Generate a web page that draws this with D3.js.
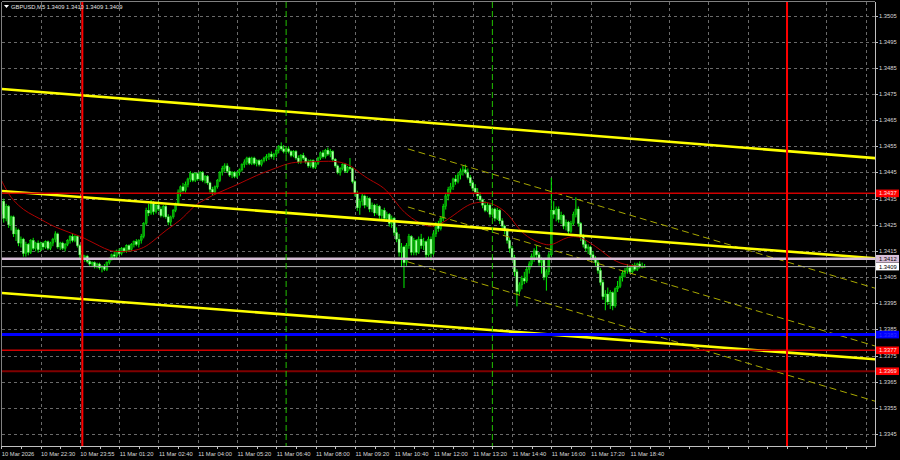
<!DOCTYPE html>
<html><head><meta charset="utf-8">
<script src="https://cdn.jsdelivr.net/npm/d3@7"></script>
<style>html,body{margin:0;padding:0;background:#000;}svg{display:block;}</style>
</head><body>
<svg id="chart" width="900" height="460"></svg>
<script>
// ---------------- DATA ----------------
const symbol = "GBPUSD,M5";
const headerValues = ["1.3409", "1.3410", "1.3409", "1.3409"];

const timeLabels = ["10 Mar 2026","10 Mar 22:30","10 Mar 23:55","11 Mar 01:20","11 Mar 02:40","11 Mar 04:00",
  "11 Mar 05:20","11 Mar 06:40","11 Mar 08:00","11 Mar 09:20","11 Mar 10:40","11 Mar 12:00","11 Mar 13:20",
  "11 Mar 14:40","11 Mar 16:00","11 Mar 17:20","11 Mar 18:40"];
const timeLabelBars = [0,16,32,48,64,80,96,112,128,144,160,176,192,208,224,240,256];
const gridBars = [16,32,48,64,80,96,112,128,144,160,176,192,208,224,240,256,272,288,304,320,336,352];

const priceTicks = [1.3345,1.3355,1.3365,1.3375,1.3385,1.3395,1.3405,1.3415,1.3425,1.3435,1.3445,1.3455,1.3465,1.3475,1.3485,1.3495,1.3505];

// M5 candles: [open, high, low, close]
const candles = [
[1.3429,1.3437,1.3427,1.3434],[1.3434,1.3435,1.3426,1.34275],[1.34275,1.3433,1.34265,1.3432],[1.3432,1.34325,1.3424,1.3425],
[1.3425,1.34285,1.3423,1.3428],[1.3428,1.34285,1.34205,1.34215],[1.34215,1.3424,1.3419,1.3423],[1.3423,1.34235,1.3417,1.3418],
[1.3418,1.34205,1.34165,1.34195],[1.34195,1.342,1.3413,1.3414],[1.3414,1.34185,1.3413,1.34175],[1.34175,1.3418,1.34135,1.34145],
[1.34145,1.34195,1.3414,1.3419],[1.3419,1.342,1.34155,1.3416],[1.3416,1.34185,1.3415,1.3418],[1.3418,1.3419,1.34145,1.34155],
[1.34155,1.34185,1.3415,1.3418],[1.3418,1.34185,1.34155,1.34165],[1.34165,1.3419,1.3416,1.34185],[1.34185,1.3419,1.34155,1.3416],
[1.3416,1.34185,1.34155,1.3418],[1.3418,1.342,1.3417,1.34195],[1.34195,1.34225,1.34185,1.34215],[1.34215,1.3422,1.3416,1.34165],
[1.34165,1.34185,1.34155,1.3418],[1.3418,1.34185,1.34155,1.3416],[1.3416,1.3418,1.3415,1.34175],[1.34175,1.34195,1.3417,1.3419],
[1.3419,1.3421,1.3418,1.34205],[1.34205,1.34215,1.34185,1.3419],[1.3419,1.3421,1.34185,1.34205],[1.34205,1.3421,1.34165,1.3417],
[1.3417,1.34175,1.34125,1.34135],[1.34135,1.34145,1.34115,1.3412],[1.3412,1.34135,1.3411,1.3413],[1.3413,1.34135,1.34105,1.3411],
[1.3411,1.3412,1.34095,1.341],[1.341,1.3411,1.3409,1.34105],[1.34105,1.3411,1.34085,1.3409],[1.3409,1.34105,1.34085,1.341],
[1.341,1.34105,1.3408,1.34085],[1.34085,1.34095,1.3407,1.3409],[1.3409,1.341,1.34075,1.3408],[1.3408,1.3411,1.34075,1.34105],
[1.34105,1.34125,1.341,1.3412],[1.3412,1.3414,1.34115,1.34135],[1.34135,1.3415,1.34125,1.3413],[1.3413,1.34155,1.34125,1.3415],
[1.3415,1.3416,1.34135,1.3414],[1.3414,1.34165,1.34135,1.3416],[1.3416,1.34165,1.34145,1.3415],[1.3415,1.34175,1.34145,1.3417],
[1.3417,1.34175,1.3415,1.34155],[1.34155,1.3418,1.3415,1.34175],[1.34175,1.3419,1.34165,1.34185],[1.34185,1.34195,1.3417,1.34175],
[1.34175,1.34195,1.34165,1.3419],[1.3419,1.34215,1.3418,1.34205],[1.34205,1.3426,1.342,1.34255],[1.34255,1.34315,1.3425,1.34305],
[1.34305,1.3433,1.34285,1.34295],[1.34295,1.34345,1.3429,1.34335],[1.34335,1.3434,1.3429,1.343],[1.343,1.3433,1.34295,1.34325],
[1.34325,1.3434,1.34305,1.3431],[1.3431,1.3432,1.3428,1.34285],[1.34285,1.34325,1.3428,1.3432],[1.3432,1.34325,1.34275,1.3428],
[1.3428,1.3429,1.3425,1.3426],[1.3426,1.34285,1.3425,1.3428],[1.3428,1.3431,1.34275,1.34305],[1.34305,1.34335,1.343,1.3433],
[1.3433,1.34385,1.34325,1.34375],[1.34375,1.344,1.3436,1.34395],[1.34395,1.3441,1.34375,1.3438],[1.3438,1.34415,1.34375,1.34405],
[1.34405,1.3443,1.34395,1.34425],[1.34425,1.34455,1.34415,1.34445],[1.34445,1.3445,1.34415,1.3442],[1.3442,1.3445,1.34415,1.34445],
[1.34445,1.3445,1.3442,1.34425],[1.34425,1.34455,1.3442,1.3445],[1.3445,1.34455,1.34415,1.3442],[1.3442,1.3444,1.3441,1.34435],
[1.34435,1.3444,1.34405,1.3441],[1.3441,1.34415,1.34375,1.34385],[1.34385,1.34395,1.34365,1.34375],[1.34375,1.344,1.3437,1.34395],
[1.34395,1.34425,1.3439,1.3442],[1.3442,1.34455,1.34415,1.3445],[1.3445,1.34475,1.3444,1.34465],[1.34465,1.34485,1.34455,1.34475],
[1.34475,1.34485,1.3445,1.34455],[1.34455,1.3447,1.34435,1.3444],[1.3444,1.34455,1.3443,1.3445],[1.3445,1.34455,1.3443,1.34435],
[1.34435,1.34455,1.3443,1.3445],[1.3445,1.34465,1.3444,1.3446],[1.3446,1.34485,1.34455,1.3448],[1.3448,1.345,1.3447,1.3449],
[1.3449,1.3451,1.3448,1.34505],[1.34505,1.3451,1.3448,1.34485],[1.34485,1.3451,1.3448,1.34505],[1.34505,1.3451,1.3448,1.34485],
[1.34485,1.345,1.34475,1.34495],[1.34495,1.345,1.34475,1.3448],[1.3448,1.345,1.34475,1.34495],[1.34495,1.3451,1.3449,1.34505],
[1.34505,1.3452,1.34495,1.3451],[1.3451,1.34525,1.345,1.3452],[1.3452,1.3453,1.34505,1.3451],[1.3451,1.34525,1.345,1.3452],
[1.3452,1.3454,1.3451,1.34535],[1.34535,1.34555,1.34525,1.3455],[1.3455,1.34565,1.34535,1.3454],[1.3454,1.34555,1.34525,1.3453],
[1.3453,1.34545,1.3452,1.3454],[1.3454,1.3455,1.34525,1.3453],[1.3453,1.34535,1.3451,1.34515],[1.34515,1.34535,1.3451,1.3453],
[1.3453,1.34535,1.345,1.34505],[1.34505,1.34515,1.34485,1.3449],[1.3449,1.3452,1.34485,1.34515],[1.34515,1.34525,1.345,1.34505],
[1.34505,1.3451,1.34485,1.3449],[1.3449,1.345,1.3447,1.34475],[1.34475,1.345,1.3447,1.34495],[1.34495,1.345,1.34465,1.3447],
[1.3447,1.3449,1.34465,1.34485],[1.34485,1.3451,1.3448,1.34505],[1.34505,1.3453,1.345,1.34525],[1.34525,1.34535,1.34505,1.3451],
[1.3451,1.3454,1.34505,1.34535],[1.34535,1.34545,1.34515,1.3452],[1.3452,1.3454,1.3451,1.3453],[1.3453,1.34535,1.34495,1.345],
[1.345,1.34505,1.3447,1.34475],[1.34475,1.3448,1.34445,1.3445],[1.3445,1.3447,1.3444,1.34465],[1.34465,1.34485,1.3446,1.3448],
[1.3448,1.34485,1.3445,1.34455],[1.34455,1.34475,1.3445,1.3447],[1.3447,1.34505,1.3446,1.34465],[1.34465,1.3447,1.3441,1.34415],
[1.34415,1.3442,1.3436,1.3437],[1.3437,1.3438,1.34305,1.34315],[1.34315,1.3435,1.3429,1.3434],[1.3434,1.3437,1.34325,1.3436],
[1.3436,1.34365,1.34315,1.34325],[1.34325,1.3436,1.3432,1.3435],[1.3435,1.34355,1.343,1.3431],[1.3431,1.34335,1.343,1.34325],
[1.34325,1.3433,1.34285,1.34295],[1.34295,1.3433,1.3429,1.3432],[1.3432,1.34325,1.34275,1.34285],[1.34285,1.3431,1.3427,1.34305],
[1.34305,1.34315,1.3427,1.34275],[1.34275,1.343,1.34265,1.3429],[1.3429,1.34295,1.34245,1.34255],[1.34255,1.34285,1.3424,1.34275],
[1.34275,1.3428,1.3421,1.3422],[1.3422,1.3424,1.34185,1.34195],[1.34195,1.34215,1.3413,1.34145],[1.34145,1.3418,1.3409,1.34165],
[1.34165,1.3417,1.3401,1.34105],[1.34105,1.3418,1.34095,1.3417],[1.3417,1.34215,1.3416,1.34205],[1.34205,1.3421,1.34135,1.34145],
[1.34145,1.342,1.34135,1.3419],[1.3419,1.34195,1.34135,1.34145],[1.34145,1.34205,1.3414,1.34195],[1.34195,1.34215,1.3416,1.3417],
[1.3417,1.342,1.34155,1.34185],[1.34185,1.3419,1.34125,1.34135],[1.34135,1.34205,1.3413,1.34195],[1.34195,1.34205,1.34115,1.3414],
[1.3414,1.34225,1.34135,1.34215],[1.34215,1.3426,1.34205,1.3425],[1.3425,1.34265,1.34225,1.34235],[1.34235,1.3428,1.3423,1.34275],
[1.34275,1.3433,1.34265,1.3432],[1.3432,1.3437,1.3431,1.3436],[1.3436,1.34395,1.34345,1.34385],[1.34385,1.3441,1.3437,1.34395],
[1.34395,1.3443,1.34385,1.34425],[1.34425,1.3444,1.34405,1.34415],[1.34415,1.3445,1.3441,1.3444],[1.3444,1.34465,1.34425,1.34455],
[1.34455,1.34475,1.3444,1.3446],[1.3446,1.3448,1.34445,1.3445],[1.3445,1.34465,1.34425,1.3443],[1.3443,1.3444,1.344,1.3441],
[1.3441,1.3442,1.3438,1.3439],[1.3439,1.34405,1.3437,1.34375],[1.34375,1.3439,1.3435,1.3436],[1.3436,1.34375,1.3434,1.34345],
[1.34345,1.3435,1.34315,1.34325],[1.34325,1.3434,1.343,1.34305],[1.34305,1.34335,1.343,1.34325],[1.34325,1.3433,1.3428,1.3429],
[1.3429,1.34315,1.3428,1.3431],[1.3431,1.34315,1.34265,1.34275],[1.34275,1.34315,1.3427,1.34305],[1.34305,1.3431,1.34255,1.34265],
[1.34265,1.34275,1.34235,1.34245],[1.34245,1.3425,1.34215,1.3423],[1.3423,1.34235,1.3418,1.3419],[1.3419,1.342,1.34145,1.3416],
[1.3416,1.3417,1.34115,1.34125],[1.34125,1.34135,1.34055,1.3407],[1.3407,1.3408,1.3394,1.33995],[1.33995,1.3403,1.33985,1.3402],
[1.3402,1.34055,1.34005,1.34045],[1.34045,1.3407,1.34025,1.34035],[1.34035,1.3409,1.3403,1.3408],[1.3408,1.3411,1.34065,1.341],
[1.341,1.3414,1.3409,1.3413],[1.3413,1.3416,1.3411,1.3415],[1.3415,1.3417,1.34125,1.34135],[1.34135,1.34145,1.34095,1.34105],
[1.34105,1.34125,1.34065,1.34115],[1.34115,1.3412,1.3404,1.3405],[1.3405,1.3408,1.34,1.3407],[1.3407,1.34145,1.3406,1.34135],
[1.34135,1.3443,1.3413,1.34305],[1.34305,1.3434,1.34275,1.3429],[1.3429,1.3432,1.34265,1.3431],[1.3431,1.3432,1.3426,1.3427],
[1.3427,1.343,1.34255,1.34285],[1.34285,1.3429,1.34235,1.34245],[1.34245,1.3427,1.3423,1.3426],[1.3426,1.34265,1.34215,1.34225],
[1.34225,1.34265,1.3422,1.34255],[1.34255,1.343,1.3425,1.3429],[1.3429,1.34355,1.3428,1.3431],[1.3431,1.3432,1.34245,1.34255],
[1.34255,1.3426,1.3419,1.34205],[1.34205,1.34215,1.34165,1.34175],[1.34175,1.3419,1.3415,1.3416],[1.3416,1.34175,1.3414,1.34165],
[1.34165,1.3417,1.34125,1.34135],[1.34135,1.3415,1.34115,1.3412],[1.3412,1.3413,1.34095,1.34105],[1.34105,1.34115,1.34065,1.34075],
[1.34075,1.34085,1.3402,1.3403],[1.3403,1.3404,1.33965,1.33975],[1.33975,1.34,1.33925,1.33985],[1.33985,1.3401,1.33945,1.33955],
[1.33955,1.34,1.3393,1.3399],[1.3399,1.33995,1.33925,1.3394],[1.3394,1.3401,1.33935,1.34005],[1.34005,1.34035,1.33995,1.34015],
[1.34015,1.34055,1.3401,1.3405],[1.3405,1.34075,1.34035,1.34065],[1.34065,1.34085,1.3405,1.34075],[1.34075,1.341,1.34065,1.34085],
[1.34085,1.34095,1.34065,1.3407],[1.3407,1.341,1.34065,1.34095],[1.34095,1.34105,1.34075,1.3408],[1.3408,1.34105,1.34075,1.341],
[1.341,1.3411,1.34085,1.3409],[1.3409,1.34105,1.34085,1.3409],[1.3409,1.341,1.3409,1.3409]
];

// moving average traced: [bar, price]
const maPoints = [[0,1.34421],[3,1.34364],[7,1.34322],[11,1.34295],[16,1.34272],[20,1.34249],[24,1.34234],[28,1.34219],
[32,1.34207],[36,1.34188],[40,1.34169],[44,1.3415],[48,1.34146],[54,1.3415],[58,1.34161],[62,1.34188],[67,1.3423],
[73,1.34265],[78,1.34318],[81,1.34337],[88,1.34372],[96,1.34402],[104,1.3444],[112,1.34467],[118,1.3449],[125,1.3449],
[134,1.34494],[138,1.3449],[142,1.34479],[146,1.34448],[150,1.34421],[156,1.34394],[160,1.34345],[164,1.34295],
[170,1.34257],[175,1.34238],[180,1.34257],[186,1.34299],[191,1.34333],[196,1.34337],[200,1.34333],[206,1.34299],
[210,1.34242],[214,1.34203],[220,1.34177],[224,1.34169],[228,1.34192],[232,1.34207],[236,1.34203],[240,1.3418],
[244,1.34154],[248,1.34123],[253,1.34096],[262,1.34089]];

// trend lines (thick): [[bar, price],[bar, price]]
const trendLines = [
  [[-1,1.34770],[357,1.34504]],
  [[-1,1.34380],[357,1.34121]],
  [[-1,1.33990],[357,1.33735]]
];
// regression channel (dashed)
const channelLines = [
  [[165.6,1.34540],[356,1.34007]],
  [[165.6,1.34318],[356,1.33786]],
  [[165.6,1.34108],[356,1.33575]]
];
// horizontal levels
const levelPrices = [1.3437, 1.3412, 1.3409, 1.3383, 1.3377, 1.3369];
const levelKinds  = ["red", "pink", "bid", "blue", "red", "darkred"];
// vertical lines (bar index)
const vLineBars  = [33, 116, 200, 320];
const vLineKinds = ["red", "green", "green", "red"];

// ---------------- STYLES ----------------
const FONT = "'Liberation Sans', Arial, sans-serif";
const levelStyle = {
  red:     {line:"#d00000", w:1.5, box:"#ff0000", text:"#ffe0e0"},
  pink:    {line:"#d8bfd8", w:2.5, box:"#d8bfd8", text:"#000000"},
  bid:     {line:"#b4b4b4", w:1,   box:"#ffffff", text:"#000000"},
  blue:    {line:"#0000ff", w:3,   box:"#0000ff", text:"#3030ff"},
  darkred: {line:"#800000", w:2,   box:"#ff0000", text:"#ffe0e0"}
};
const vStyle = {
  red:   {c:"#ff0000", w:2, dash:null},
  green: {c:"#22c000", w:1, dash:"6,3"}
};

// ---------------- SCALES ----------------
const P = {l:2, r:875, t:2, b:446};
const step = 2.4554;
const x = d3.scaleLinear().domain([0, 356]).range([1.3, 1.3 + step*356]);
const y = d3.scaleLinear().domain([1.3345, 1.3505]).range([434, 15.5]);

const svg = d3.select("#chart");
svg.append("rect").attr("width",900).attr("height",460).attr("fill","#000");

svg.append("defs").append("clipPath").attr("id","clip")
  .append("rect").attr("x",P.l).attr("y",P.t).attr("width",P.r-P.l).attr("height",P.b-P.t);

const g = svg.append("g").attr("clip-path","url(#clip)");

// grid
g.selectAll("line.hg").data(priceTicks).join("line").attr("class","hg")
  .attr("x1",P.l).attr("x2",P.r).attr("y1",d=>Math.round(y(d))+0.5).attr("y2",d=>Math.round(y(d))+0.5)
  .attr("stroke","#6a6a6a").attr("stroke-width",1).attr("stroke-dasharray","3,3");
g.selectAll("line.vg").data(gridBars).join("line").attr("class","vg")
  .attr("x1",d=>Math.round(x(d))+0.5).attr("x2",d=>Math.round(x(d))+0.5).attr("y1",P.t).attr("y2",P.b)
  .attr("stroke","#6a6a6a").attr("stroke-width",1).attr("stroke-dasharray","3,3");

// candles
const cg = g.append("g");
cg.selectAll("line.wick").data(candles).join("line").attr("class","wick")
  .attr("x1",(d,i)=>x(i)).attr("x2",(d,i)=>x(i))
  .attr("y1",d=>y(d[1])).attr("y2",d=>y(d[2])+0.5)
  .attr("stroke","#00f000").attr("stroke-width",1);
cg.selectAll("rect.body").data(candles).join("rect").attr("class","body")
  .attr("x",(d,i)=>x(i)-1).attr("width",2)
  .attr("y",d=>y(Math.max(d[0],d[3])))
  .attr("height",d=>Math.max(0.8, Math.abs(y(d[0])-y(d[3]))))
  .attr("fill",d=>d[3]>=d[0] ? "#0b9e0b" : "#b0ffa8")
  .attr("stroke",d=>d[3]>=d[0] ? "#00f000" : "#40ff40").attr("stroke-width",0.4);

// moving average
g.append("path").datum(maPoints)
  .attr("d", d3.line().x(d=>x(d[0])).y(d=>y(d[1])).curve(d3.curveBasis))
  .attr("fill","none").attr("stroke","#b00000").attr("stroke-width",1);

// regression channel (dashed)
g.selectAll("line.ch").data(channelLines).join("line").attr("class","ch")
  .attr("x1",d=>x(d[0][0])).attr("y1",d=>y(d[0][1])).attr("x2",d=>x(d[1][0])).attr("y2",d=>y(d[1][1]))
  .attr("stroke","#a8a800").attr("stroke-width",1).attr("stroke-dasharray","7,4");

// trend lines
g.selectAll("line.tl").data(trendLines).join("line").attr("class","tl")
  .attr("x1",d=>x(d[0][0])).attr("y1",d=>y(d[0][1])).attr("x2",d=>x(d[1][0])).attr("y2",d=>y(d[1][1]))
  .attr("stroke","#ffff00").attr("stroke-width",2.6);

// horizontal levels
g.selectAll("line.lv").data(levelPrices).join("line").attr("class","lv")
  .attr("x1",P.l).attr("x2",P.r).attr("y1",d=>y(d)).attr("y2",d=>y(d))
  .attr("stroke",(d,i)=>levelStyle[levelKinds[i]].line)
  .attr("stroke-width",(d,i)=>levelStyle[levelKinds[i]].w);

// vertical lines
g.selectAll("line.vl").data(vLineBars).join("line").attr("class","vl")
  .attr("x1",d=>x(d)).attr("x2",d=>x(d)).attr("y1",P.t).attr("y2",P.b)
  .attr("stroke",(d,i)=>vStyle[vLineKinds[i]].c)
  .attr("stroke-width",(d,i)=>vStyle[vLineKinds[i]].w)
  .attr("stroke-dasharray",(d,i)=>vStyle[vLineKinds[i]].dash);

// frame
svg.append("line").attr("x1",P.r+0.5).attr("x2",P.r+0.5).attr("y1",P.t).attr("y2",P.b+0.5).attr("stroke","#c0c0c0");
svg.append("line").attr("x1",P.l).attr("x2",P.r+0.5).attr("y1",P.b+0.5).attr("y2",P.b+0.5).attr("stroke","#c0c0c0");
svg.append("line").attr("x1",P.l-0.5).attr("x2",P.l-0.5).attr("y1",P.t).attr("y2",P.b+0.5).attr("stroke","#808080");
svg.append("line").attr("x1",P.l).attr("x2",P.r).attr("y1",P.t-0.5).attr("y2",P.t-0.5).attr("stroke","#808080");

// price axis
const ya = svg.append("g");
ya.selectAll("line").data(priceTicks).join("line")
  .attr("x1",P.r).attr("x2",P.r+3).attr("y1",d=>Math.round(y(d))+0.5).attr("y2",d=>Math.round(y(d))+0.5)
  .attr("stroke","#c0c0c0");
ya.selectAll("text").data(priceTicks).join("text")
  .attr("x",P.r+4).attr("y",d=>y(d)).attr("dy","0.35em")
  .attr("fill","#d8d8d8").attr("font-family",FONT).attr("font-size",5.8)
  .text(d=>d.toFixed(4));

// level labels
const lb = svg.append("g");
levelPrices.forEach((p,i)=>{
  const s = levelStyle[levelKinds[i]];
  lb.append("rect").attr("x",P.r+1).attr("y",y(p)-3.8).attr("width",23).attr("height",7.6).attr("fill",s.box);
  lb.append("text").attr("x",P.r+4).attr("y",y(p)).attr("dy","0.35em")
    .attr("fill",s.text).attr("font-family",FONT).attr("font-size",5.8).text(p.toFixed(4));
});

// time axis
const xa = svg.append("g");
xa.selectAll("line").data(d3.range(0,356,8)).join("line")
  .attr("x1",d=>Math.round(x(d))+0.5).attr("x2",d=>Math.round(x(d))+0.5)
  .attr("y1",P.b).attr("y2",P.b+3).attr("stroke","#c0c0c0");
xa.selectAll("text").data(timeLabels).join("text")
  .attr("x",(d,i)=>x(timeLabelBars[i])+0.5).attr("y",456)
  .attr("fill","#d8d8d8").attr("font-family",FONT).attr("font-size",5.8)
  .text(d=>d);

// header
svg.append("path").attr("d","M4,5 L9,5 L6.5,8 Z").attr("fill","#ffffff");
svg.append("text").attr("x",11).attr("y",9).attr("fill","#e0e0e0").attr("font-family",FONT).attr("font-size",5.8)
  .text(symbol + "  " + headerValues.join(" "));
</script>
</body></html>
